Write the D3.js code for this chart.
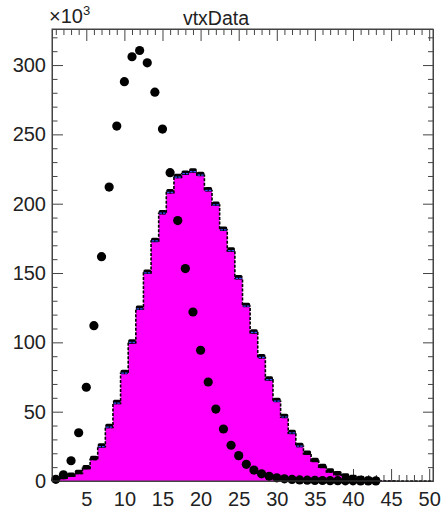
<!DOCTYPE html>
<html>
<head>
<meta charset="utf-8">
<script src="https://cdn.jsdelivr.net/npm/d3@7"></script>
<style>
  html, body { margin: 0; padding: 0; background: #fff; }
  svg { display: block; font-family: "Liberation Sans", Arial, Helvetica, sans-serif; }
</style>
</head>
<body>
<svg id="chart" width="444" height="512"></svg>
<script>
// ---- data (values in units of 10^3) ----
const binCenters = d3.range(1, 51); // 1..50
const mcValues = [
  0.5, 2, 3.6, 5.5, 9.1, 15.6, 24.7, 38.7, 56, 77.7,
  99.8, 124, 150, 173, 193, 208, 219, 221.5, 223, 220.5,
  209.5, 199, 181, 166, 146, 126, 107, 89, 73, 57.5,
  46, 34.5, 25, 19.5, 14.3, 10, 6.6, 4.6, 3, 1.9,
  1.2, 0.7, 0.4, 0.2, 0.1, 0.05, 0, 0, 0, 0
];
const dataX = d3.range(1, 44); // 1..43
const dataValues = [
  1.2, 4.5, 14.6, 34.8, 67.6, 112, 161.8, 212, 256, 288,
  306, 310.5, 301.6, 280.4, 253.8, 222.4, 187.8, 153.2, 121.9, 94.3,
  71.4, 51.9, 37.5, 25.8, 18.3, 12, 7.9, 5.2, 3.4, 2.3,
  1.6, 1.1, 0.8, 0.6, 0.45, 0.35, 0.25, 0.2, 0.15, 0.1,
  0.08, 0.05, 0.03
];
const xMajorTicks = [5, 10, 15, 20, 25, 30, 35, 40, 45, 50];
const yMajorTicks = [0, 50, 100, 150, 200, 250, 300];
const titleText = "vtxData";

// ---- layout ----
const L = 52, R = 433, T = 29, B = 481;
const svg = d3.select("#chart");
const x = d3.scaleLinear().domain([0.5, 50.5]).range([L, R]);
const y = d3.scaleLinear().domain([0, 326]).range([B, T]);
const axisColor = "#444";
const textColor = "#222";
const fs = 20;

const xMinor = d3.range(1, 51).filter(v => v % 5 !== 0);
const yMinor = d3.range(10, 326, 10).filter(v => v % 50 !== 0);

function styleAxis(g) {
  g.selectAll("path.domain").attr("stroke", axisColor).attr("stroke-width", 1);
  g.selectAll(".tick line").attr("stroke", axisColor).attr("stroke-width", 1);
  g.selectAll(".tick text").attr("fill", textColor).style("font-size", fs + "px")
    .style("font-family", '"Liberation Sans", Arial, sans-serif');
}

// axes (drawn under histogram)
const axes = svg.append("g");
// bottom
axes.append("g").attr("transform", `translate(0,${B})`)
  .call(d3.axisBottom(x).tickValues(xMajorTicks).tickSize(-12).tickSizeOuter(0).tickPadding(10.5))
  .call(styleAxis);
axes.append("g").attr("transform", `translate(0,${B})`)
  .call(d3.axisBottom(x).tickValues(xMinor).tickSize(-6).tickSizeOuter(0).tickFormat(""))
  .call(styleAxis);
// top
axes.append("g").attr("transform", `translate(0,${T})`)
  .call(d3.axisTop(x).tickValues(xMajorTicks).tickSize(-12).tickSizeOuter(0).tickFormat(""))
  .call(styleAxis);
axes.append("g").attr("transform", `translate(0,${T})`)
  .call(d3.axisTop(x).tickValues(xMinor).tickSize(-6).tickSizeOuter(0).tickFormat(""))
  .call(styleAxis);
// left
axes.append("g").attr("transform", `translate(${L},0)`)
  .call(d3.axisLeft(y).tickValues(yMajorTicks).tickSize(-11).tickSizeOuter(0).tickPadding(6))
  .call(styleAxis);
axes.append("g").attr("transform", `translate(${L},0)`)
  .call(d3.axisLeft(y).tickValues(yMinor).tickSize(-5.5).tickSizeOuter(0).tickFormat(""))
  .call(styleAxis);
// right
axes.append("g").attr("transform", `translate(${R},0)`)
  .call(d3.axisRight(y).tickValues(yMajorTicks).tickSize(-10).tickSizeOuter(0).tickFormat(""))
  .call(styleAxis);
axes.append("g").attr("transform", `translate(${R},0)`)
  .call(d3.axisRight(y).tickValues(yMinor).tickSize(-5).tickSizeOuter(0).tickFormat(""))
  .call(styleAxis);

// ---- histogram ----
const stepPts = binCenters.map((c, i) => [c - 0.5, mcValues[i]]);
stepPts.push([50.5, mcValues[mcValues.length - 1]]);

const area = d3.area().x(d => x(d[0])).y0(y(0)).y1(d => y(d[1])).curve(d3.curveStepAfter);
svg.append("path").datum(stepPts).attr("d", area).attr("fill", "#ff00ff");

// outline (dashed verticals)
const outlinePts = [[0.5, 0]].concat(stepPts).concat([[50.5, 0]]);
const line = d3.line().x(d => x(d[0])).y(d => y(d[1])).curve(d3.curveStepAfter);
svg.append("path").datum(outlinePts).attr("d", line)
  .attr("fill", "none").attr("stroke", "#000").attr("stroke-width", 1.6)
  .attr("stroke-dasharray", "3,1.5");

// bin tops: solid thick caps with blue marker lines
const caps = svg.append("g");
binCenters.forEach((c, i) => {
  const v = mcValues[i];
  if (v < 0.3) return;
  const x0 = x(c - 0.5), x1 = x(c + 0.5), yv = y(v);
  caps.append("rect").attr("x", x0).attr("y", yv - 3.5)
    .attr("width", x1 - x0).attr("height", 4.5).attr("rx", 1.5).attr("fill", "#000");
  if (v > 20) {
    caps.append("line").attr("x1", x(c) - 3).attr("x2", x(c) + 3)
      .attr("y1", yv - 0.2).attr("y2", yv - 0.2)
      .attr("stroke", "#3355ff").attr("stroke-width", 1.2).attr("stroke-dasharray", "2.5,1");
  }
});

// ---- data points ----
svg.append("g").selectAll("circle").data(dataX).join("circle")
  .attr("cx", d => x(d))
  .attr("cy", (d, i) => y(dataValues[i]))
  .attr("r", 4.6)
  .attr("fill", "#000");

// frame
svg.append("rect").attr("x", L).attr("y", T).attr("width", R - L).attr("height", B - T)
  .attr("fill", "none").attr("stroke", axisColor).attr("stroke-width", 1);

// title
svg.append("text").attr("x", 216).attr("y", 25).attr("text-anchor", "middle")
  .attr("fill", textColor).style("font-size", "19.5px").text(titleText);

// exponent label
const ex = svg.append("text").attr("x", 49).attr("y", 23).attr("fill", textColor)
  .style("font-size", fs + "px");
ex.append("tspan").text("\u00d710");
ex.append("tspan").attr("dy", -8).style("font-size", "13px").text("3");
</script>
</body>
</html>
